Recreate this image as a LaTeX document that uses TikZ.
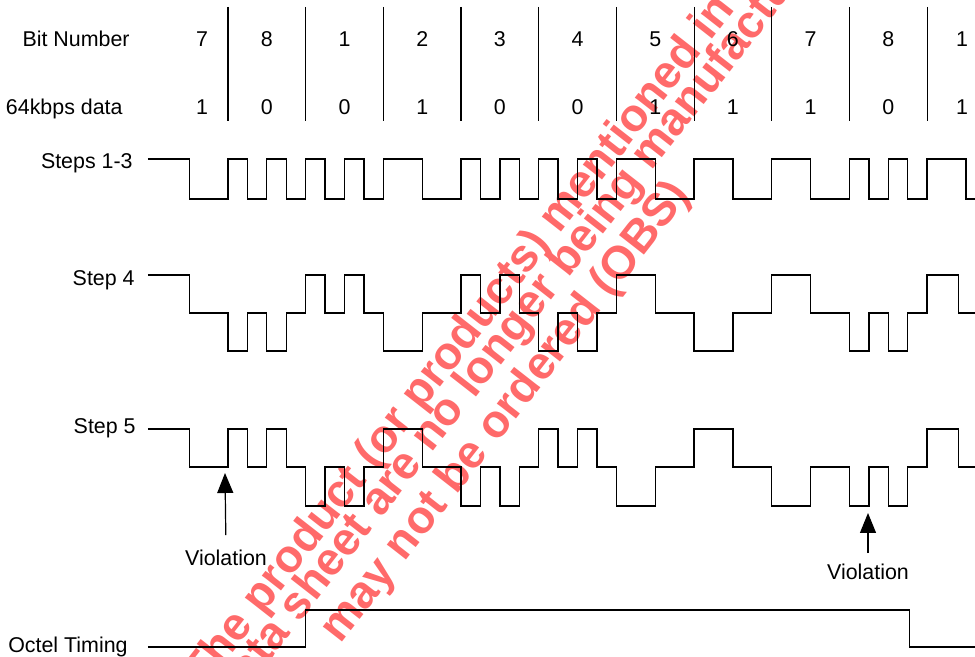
\documentclass[tikz,border=0pt]{standalone}
\usepackage{fontspec}
\setmainfont{Liberation Sans}
\usetikzlibrary{arrows.meta}
\definecolor{wmred}{HTML}{FF6A6A}
\newcommand{\sigfont}{\fontsize{10.7}{12}\selectfont}
\newcommand{\wmfont}{\fontsize{23}{25}\selectfont\bfseries}
\tikzset{
  sig/.style={draw=black,line width=0.65pt,line join=miter},
  bitline/.style={draw=black,line width=0.55pt},
  lbl/.style={anchor=base east,inner sep=0pt},
  digit/.style={anchor=base,inner sep=0pt},
  viol/.style={-{Triangle[length=10pt,width=8pt]},draw=black,line width=0.6pt},
  wm/.style={anchor=base west,rotate=52,inner sep=0pt,text=wmred,font=\wmfont},
}

\begin{document}
\begin{tikzpicture}[x=0.5pt,y=-0.5pt,font=\sigfont]
  \useasboundingbox (0,0) rectangle (975,657);
  % watermark, under the drawing
  \begin{scope}
    \clip (0,0) rectangle (975,657);
    \node[wm] (wm1) at (204,690) {The product (or products) mentioned in this};
    \node[wm] (wm2) at (233,708) {data sheet are no longer being manufactured and};
    \node[wm] (wm3) at (340,645) {may not be ordered (OBS)};
  \end{scope}
  % row labels
  \node[lbl] (lbit) at (130,47) {Bit Number};
  \node[lbl] (ldat) at (123,115) {64kbps data};
  \node[lbl] (ls13) at (133,169) {Steps 1-3};
  \node[lbl] (ls4) at (135,286) {Step 4};
  \node[lbl] (ls5) at (136,434) {Step 5};
  \node[lbl] (loct) at (128,652) {Octel Timing};
  \node[digit] (violA) at (226,566) {Violation};
  \node[digit] (violB) at (868,580) {Violation};
  \coordinate (tipA) at (225,473);
  \coordinate (tipB) at (868,513);
  \draw[viol,shorten <=7.5pt] (violA.north) -- (tipA);
  \draw[viol,shorten <=5.5pt] (violB.north) -- (tipB);
  % time axis in quarter bits
  \begin{scope}[shift={(228,0)},x=9.71pt]
    \foreach \k in {0,4,...,36}
      \draw[bitline] (\k,7) -- (\k,121);
    \foreach \u/\b/\d [count=\i] in {-1.34/7/1,2/8/0,6/1/0,10/2/1,14/3/0,18/4/0,22/5/1,26/6/1,30/7/1,34/8/0,37.8/1/1}{
      \node[digit] (bit\i) at (\u,47) {\b};
      \node[digit] (dat\i) at (\u,115) {\d};
    }
    % steps 1-3
    \draw[sig] (-4.12,159) \foreach \u/\l in {-2/199,0/159,1/199,2/159,3/199,4/159,5/199,6/159,7/199,8/159,10/199,
      12/159,13/199,14/159,15/199,16/159,17/199,18/159,19/199,20/159,22/199,24/159,26/199,28/159,30/199,
      32/159,33/199,34/159,35/199,36/159,38/199}{ -| (\u,\l) } -- (38.6,199);
    % step 4
    \draw[sig] (-4.12,275) \foreach \u/\l in {-2/313,0/351,1/313,2/351,3/313,4/275,5/313,6/275,7/313,8/351,10/313,
      12/275,13/313,14/275,15/313,16/351,17/313,18/351,19/313,20/275,22/313,24/351,26/313,28/275,30/313,
      32/351,33/313,34/351,35/313,36/275,37.6/313}{ -| (\u,\l) } -- (38.6,313);
    % step 5
    \draw[sig] (-4.12,429) \foreach \u/\l in {-2/467,0/429,1/467,2/429,3/467,4/506,5/467,6/506,7/467,8/429,10/467,
      12/506,13/467,14/506,15/467,16/429,17/467,18/429,19/467,20/506,22/467,24/429,26/467,28/506,30/467,
      32/506,33/467,34/506,35/467,36/429,37.6/467}{ -| (\u,\l) } -- (38.6,467);
    % octet timing
    \draw[sig] (-4.12,647) -| (4,610) -| (35.1,647) -- (38.6,647);
  \end{scope}
\end{tikzpicture}
\end{document}
